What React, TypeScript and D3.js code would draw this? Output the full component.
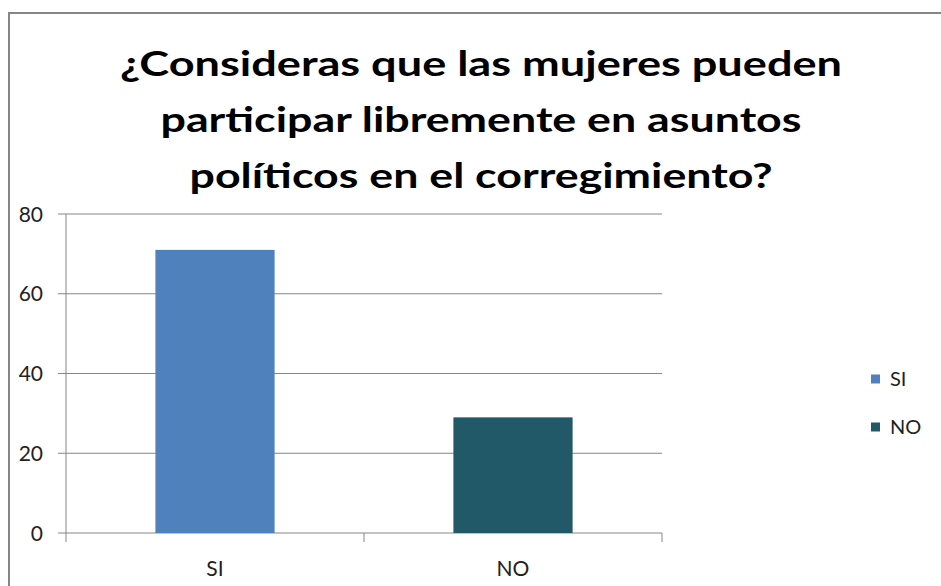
import { scaleBand, scaleLinear } from "d3";

const categories = ["SI", "NO"];
const values = [71, 29];
const colors = ["#4F81BD", "#215968"];
const yTicks = [0, 20, 40, 60, 80];
const titleLines = [
    "¿Consideras que las mujeres pueden",
    "participar libremente en asuntos",
    "políticos en el corregimiento?",
];

const W = 941;
const H = 586;
const FONT = "Lato, 'Open Sans', sans-serif";
const AXIS = "#868686";

export default function App() {
    const left = 66;
    const right = 662;
    const top = 214;
    const bottom = 533;

    const x = scaleBand()
        .domain(categories)
        .range([left, right])
        .paddingInner(0.6)
        .paddingOuter(0.3);
    const y = scaleLinear().domain([0, 80]).range([bottom, top]);

    const titleWidths = [722, 641, 583];
    const titleBase = [76, 132, 188];

    // band boundaries for bottom tick marks
    const step = x.step();
    const bounds = categories.map((_, i) => left + i * step).concat([right]);

    return (
        <div style={{ position: "fixed", left: 0, top: 0 }}>
            <svg width={W} height={H} style={{ display: "block", background: "#fff" }}>
                {/* outer border */}
                <rect x={9} y={13} width={W} height={H} fill="none" stroke={AXIS} strokeWidth={2} />

                {/* title */}
                {titleLines.map((line, i) => (
                    <text
                        key={i}
                        x={481}
                        y={titleBase[i]}
                        textAnchor="middle"
                        fontFamily={FONT}
                        fontWeight="bold"
                        fontSize={34}
                        fill="#000"
                        textLength={titleWidths[i]}
                        lengthAdjust="spacingAndGlyphs"
                    >
                        {line}
                    </text>
                ))}

                {/* gridlines and y ticks */}
                {yTicks.map((t) => (
                    <g key={t}>
                        <line x1={58} x2={right} y1={y(t)} y2={y(t)} stroke={AXIS} strokeWidth={1} />
                        <text
                            x={43}
                            y={y(t)}
                            dy="0.36em"
                            textAnchor="end"
                            fontFamily={FONT}
                            fontSize={21}
                            fill="#222"
                        >
                            {t}
                        </text>
                    </g>
                ))}

                {/* y axis */}
                <line x1={left} x2={left} y1={top} y2={bottom + 9} stroke={AXIS} strokeWidth={1} />
                {bounds.slice(1).map((b, i) => (
                    <line key={i} x1={b} x2={b} y1={bottom} y2={bottom + 9} stroke={AXIS} strokeWidth={1} />
                ))}

                {/* bars */}
                {categories.map((c, i) => (
                    <rect
                        key={c}
                        x={x(c)}
                        y={y(values[i])}
                        width={x.bandwidth()}
                        height={y(0) - y(values[i])}
                        fill={colors[i]}
                    />
                ))}

                {/* x labels */}
                {categories.map((c) => (
                    <text
                        key={c}
                        x={(x(c) ?? 0) + x.bandwidth() / 2}
                        y={576}
                        textAnchor="middle"
                        fontFamily={FONT}
                        fontSize={21}
                        fill="#222"
                    >
                        {c}
                    </text>
                ))}

                {/* legend */}
                {categories.map((c, i) => (
                    <g key={c} transform={`translate(871,${379 + i * 48})`}>
                        <rect x={0} y={-4.5} width={9} height={9} fill={colors[i]} />
                        <text x={19} y={0} dy="0.36em" fontFamily={FONT} fontSize={20} fill="#222">
                            {c}
                        </text>
                    </g>
                ))}
            </svg>
        </div>
    );
}
